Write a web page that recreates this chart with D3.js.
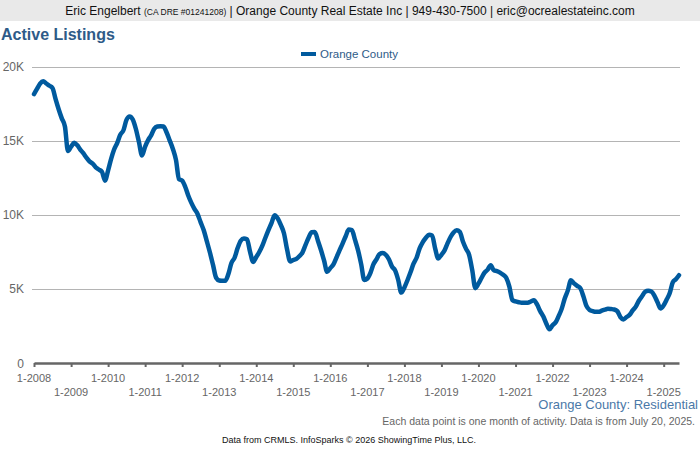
<!DOCTYPE html>
<html>
<head>
<meta charset="utf-8">
<script src="https://cdn.jsdelivr.net/npm/d3@7"></script>
<style>
  body { margin: 0; background: #fff; }
  svg { display: block; font-family: Arial, "Liberation Sans", sans-serif; }
</style>
</head>
<body>
<svg id="chart" width="700" height="450"></svg>
<script>
// monthly active listings, Orange County, Jan 2008 .. Jun 2025
var startYear = 2008;
var listings = [
	// 2008
	18140, 18500, 18850, 19010, 18850, 18700, 18550, 17800, 17100, 16500, 15950, 14300,
	// 2009
	14600, 14850, 14700, 14400, 14150, 13850, 13600, 13450, 13200, 13050, 12900, 12300,
	// 2010
	13000, 13800, 14400, 14850, 15400, 15700, 16400, 16630, 16420, 15800, 14900, 14000,
	// 2011
	14600, 15050, 15350, 15800, 15950, 15970, 15950, 15550, 15000, 14450, 13700, 12400,
	// 2012
	12300, 11870, 11300, 10800, 10400, 10050, 9500, 8950, 8200, 7450, 6600, 5750,
	// 2013
	5570, 5550, 5540, 6000, 6750, 7100, 7750, 8250, 8400, 8350, 7500, 6820,
	// 2014
	7150, 7500, 7900, 8450, 8960, 9450, 9970, 9750, 9300, 8750, 7650, 6850,
	// 2015
	6950, 7030, 7200, 7450, 7950, 8450, 8820, 8840, 8250, 7620, 6900, 6150,
	// 2016
	6400, 6650, 7100, 7600, 8050, 8550, 9000, 8960, 8300, 7600, 6650, 5600,
	// 2017
	5700, 6100, 6650, 7000, 7350, 7420, 7300, 7000, 6500, 6250, 5600, 4750,
	// 2018
	5100, 5600, 6100, 6700, 7100, 7750, 8150, 8450, 8650, 8600, 7700, 7050,
	// 2019
	7300, 7600, 8050, 8500, 8800, 8950, 8850, 8200, 7700, 7300, 6260, 5050,
	// 2020
	5350, 5750, 6100, 6300, 6600, 6250, 6200, 6100, 5950, 5750, 5150, 4250,
	// 2021
	4150, 4100, 4060, 4060, 4060, 4150, 4230, 3950, 3500, 3150, 2650, 2270,
	// 2022
	2550, 2750, 3150, 3650, 4350, 4900, 5580, 5370, 5200, 5060, 4500, 3850,
	// 2023
	3580, 3500, 3450, 3450, 3530, 3600, 3660, 3640, 3610, 3500, 3100, 2940,
	// 2024
	3100, 3250, 3550, 3800, 4200, 4500, 4800, 4870, 4820, 4550, 4100, 3680,
	// 2025
	3900, 4300, 4700, 5450, 5650, 5920
];
var yTicks = [0, 5000, 10000, 15000, 20000];
var yTickLabels = ["0", "5K", "10K", "15K", "20K"];
var tickYears = d3.range(2008, 2026);

var svg = d3.select("#chart");

// header band
svg.append("rect").attr("x", 0).attr("y", 0).attr("width", 700).attr("height", 21).attr("fill", "#e9e9e9");
var head = svg.append("text").attr("x", 350).attr("y", 15).attr("text-anchor", "middle")
	.attr("font-size", 12).attr("fill", "#111");
head.append("tspan").text("Eric Engelbert ");
head.append("tspan").attr("font-size", 8.5).text("(CA DRE #01241208)");
head.append("tspan").text(" | Orange County Real Estate Inc | 949-430-7500 | eric@ocrealestateinc.com");

svg.append("text").attr("x", 1).attr("y", 40).attr("font-size", 16).attr("font-weight", "bold")
	.attr("fill", "#2e5b88").text("Active Listings");

// legend
svg.append("line").attr("x1", 301).attr("x2", 316).attr("y1", 54).attr("y2", 54)
	.attr("stroke", "#005a9e").attr("stroke-width", 4);
svg.append("text").attr("x", 320).attr("y", 58).attr("font-size", 11.5).attr("fill", "#2e5b88").text("Orange County");

var x = d3.scaleTime()
	.domain([new Date(startYear, 0, 1), new Date(startYear, listings.length - 1, 1)])
	.range([34, 679]);
var y = d3.scaleLinear().domain([0, 20000]).range([363, 66.5]);

// gridlines
svg.append("g").selectAll("line").data(yTicks.slice(1)).join("line")
	.attr("x1", 32).attr("x2", 680)
	.attr("y1", function(d){ return Math.round(y(d)) + 0.5; })
	.attr("y2", function(d){ return Math.round(y(d)) + 0.5; })
	.attr("stroke", "#b4b4b4").attr("stroke-width", 1);

// y labels
svg.append("g").selectAll("text").data(yTicks).join("text")
	.attr("x", 24).attr("y", function(d){ return y(d) + 4.5; })
	.attr("text-anchor", "end").attr("font-size", 12).attr("fill", "#666")
	.text(function(d, i){ return yTickLabels[i]; });

// x axis
var xAxis = d3.axisBottom(x)
	.tickValues(tickYears.map(function(yr){ return new Date(yr, 0, 1); }))
	.tickSize(4).tickSizeOuter(0).tickFormat("");
var ax = svg.append("g").attr("transform", "translate(0,363)").call(xAxis);
ax.select(".domain").attr("stroke", "#666").attr("stroke-width", 2.5);
ax.selectAll(".tick line").attr("stroke", "#666").attr("stroke-width", 2);

svg.append("g").selectAll("text").data(tickYears).join("text")
	.attr("x", function(yr){ return x(new Date(yr, 0, 1)); })
	.attr("y", function(yr){ return yr % 2 === 0 ? 382 : 396; })
	.attr("text-anchor", "middle").attr("font-size", 11).attr("fill", "#666")
	.text(function(yr){ return "1-" + yr; });

// data line
var line = d3.line()
	.x(function(d, i){ return x(new Date(startYear, i, 1)); })
	.y(function(d){ return y(d); })
	.curve(d3.curveMonotoneX);
svg.append("path").datum(listings).attr("d", line)
	.attr("fill", "none").attr("stroke", "#005a9e").attr("stroke-width", 4.5)
	.attr("stroke-linejoin", "round").attr("stroke-linecap", "round");

// footer
svg.append("text").attr("x", 698).attr("y", 409).attr("text-anchor", "end")
	.attr("font-size", 13).attr("fill", "#4a78a8").text("Orange County: Residential");
svg.append("text").attr("x", 695).attr("y", 425).attr("text-anchor", "end")
	.attr("font-size", 10.5).attr("fill", "#666")
	.text("Each data point is one month of activity. Data is from July 20, 2025.");
svg.append("text").attr("x", 349).attr("y", 443).attr("text-anchor", "middle")
	.attr("font-size", 9).attr("fill", "#111")
	.text("Data from CRMLS. InfoSparks \u00a9 2026 ShowingTime Plus, LLC.");
</script>
</body>
</html>
